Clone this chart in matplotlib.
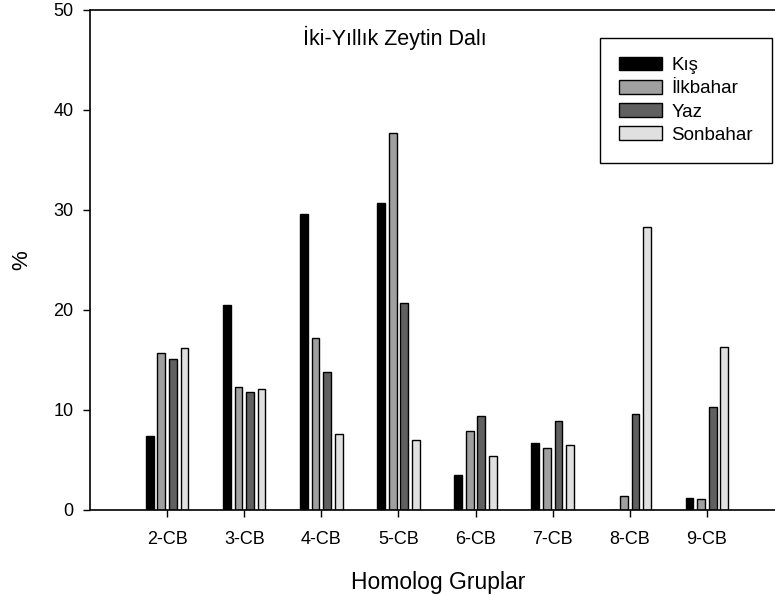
import numpy as np
import matplotlib
matplotlib.use("Agg")
import matplotlib.pyplot as plt

plt.rcParams['font.family'] = ['Liberation Sans', 'DejaVu Sans']

groups = ['2-CB', '3-CB', '4-CB', '5-CB', '6-CB', '7-CB', '8-CB', '9-CB']
kis = [7.4, 20.5, 29.6, 30.7, 3.5, 6.7, 0.0, 1.2]
ilkbahar = [15.7, 12.3, 17.2, 37.7, 7.9, 6.2, 1.4, 1.1]
yaz = [15.1, 11.8, 13.8, 20.7, 9.4, 8.9, 9.6, 10.3]
sonbahar = [16.2, 12.1, 7.6, 7.0, 5.4, 6.5, 28.3, 16.3]

series = [('Kış', kis, '#000000'),
          ('İlkbahar', ilkbahar, '#a0a0a0'),
          ('Yaz', yaz, '#606060'),
          ('Sonbahar', sonbahar, '#e0e0e0')]

fig = plt.figure(figsize=(7.75, 6.03), dpi=100)
ax = fig.add_axes([90/775, 93/603, 694/775, 500/603])

x = np.arange(1, len(groups) + 1)
step = 0.15
w = 0.1
for i, (name, vals, col) in enumerate(series):
    ax.bar(x + (i - 1.5)*step, vals, w, color=col, edgecolor='black',
           linewidth=1, label=name)

ax.set_xlim(0, 9)
ax.set_ylim(0, 50)
ax.set_xticks(x)
ax.set_xticklabels(groups, fontsize=13)
ax.set_yticks([0, 10, 20, 30, 40, 50])
ax.tick_params(axis='y', labelsize=13, direction='out', length=5, width=1, pad=7)
ax.tick_params(axis='x', direction='out', length=5, width=1, pad=10)
ax.spines['right'].set_visible(False)
for s in ['left', 'top', 'bottom']:
    ax.spines[s].set_linewidth(1.2)

fig.text(438/775, 1 - 583/603, 'Homolog Gruplar', ha='center', va='center',
         fontsize=16.5)
fig.text(22/775, 1 - 260/603, '%', ha='center', va='center', rotation=90,
         fontsize=16)
fig.text(395/775, 1 - 45/603, 'İki-Yıllık Zeytin Dalı', ha='center',
         va='baseline', fontsize=15.5)

leg = ax.legend(loc='upper left', bbox_to_anchor=(600/775, 1 - 38/603),
                bbox_transform=fig.transFigure, borderaxespad=0,
                fontsize=13.5, handlelength=2.3, handleheight=0.75,
                labelspacing=0.31, handletextpad=0.5, borderpad=1.0,
                fancybox=False, edgecolor='black', framealpha=1)
leg.get_frame().set_linewidth(1)

fig.savefig('out.png', dpi=100)
